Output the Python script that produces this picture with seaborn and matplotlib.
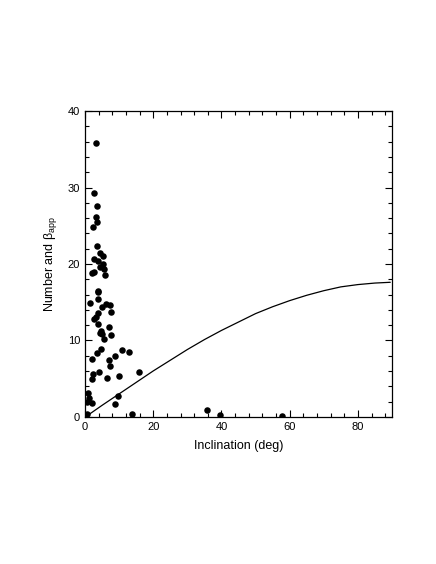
import matplotlib
matplotlib.use("Agg")
import matplotlib.pyplot as plt
import seaborn as sns
import pandas as pd
from matplotlib.ticker import MultipleLocator

# Scatter data (inclination in deg, number / beta_app)
incl = [3.2, 2.7, 3.5, 3.1, 3.6, 2.2, 3.5, 4.4, 5.3, 2.7, 3.7, 5.3, 4.4, 5.5,
        2.0, 2.6, 5.9, 3.9, 3.9, 1.6, 3.7, 6.1, 4.9, 7.3, 7.5, 3.9, 2.7, 3.3,
        3.7, 4.6, 4.3, 5.0, 5.6, 7.1, 7.6, 4.8, 3.4, 2.1, 10.7, 13.0, 8.8, 7.0,
        7.4, 4.0, 2.4, 2.1, 6.5, 10.1, 15.8, 1.0, 1.3, 0.5, 2.0, 9.8, 8.7, 0.5,
        13.7, 35.7, 39.6, 57.8]
number = [35.8, 29.3, 27.6, 26.2, 25.5, 24.9, 22.4, 21.4, 21.1, 20.7, 20.4, 20.0,
          19.6, 19.4, 18.8, 18.9, 18.5, 16.5, 16.3, 14.9, 15.4, 14.8, 14.4, 14.6,
          13.7, 13.6, 12.8, 13.0, 12.2, 11.2, 10.9, 10.8, 10.2, 11.7, 10.7, 8.9,
          8.3, 7.5, 8.7, 8.5, 7.9, 7.4, 6.7, 5.9, 5.6, 5.0, 5.1, 5.4, 5.9, 3.1,
          2.5, 1.9, 1.8, 2.7, 1.7, 0.4, 0.35, 0.9, 0.3, 0.1]

# Curve
curve_x = [0.5, 5, 10, 15, 20, 25, 30, 35, 40, 45, 50, 55, 60, 65, 70, 75, 80, 85, 89.5]
curve_y = [0.1, 1.5, 3.0, 4.5, 6.0, 7.4, 8.8, 10.1, 11.3, 12.4, 13.5, 14.4, 15.2,
           15.9, 16.5, 17.0, 17.3, 17.5, 17.6]

pts = pd.DataFrame({"incl": incl, "number": number})
crv = pd.DataFrame({"x": curve_x, "y": curve_y})

sns.set_style("ticks")
plt.rcParams["font.family"] = ["Liberation Sans", "DejaVu Sans"]
plt.rcParams["mathtext.fontset"] = "custom"
plt.rcParams["mathtext.rm"] = "Liberation Sans"
plt.rcParams["mathtext.it"] = "Liberation Sans:italic"
for k in ["text.color", "axes.labelcolor", "xtick.color", "ytick.color",
          "axes.edgecolor"]:
    plt.rcParams[k] = "black"

fig = plt.figure(figsize=(4.36, 5.64), dpi=100)
ax = fig.add_axes([0.195, 0.261, 0.704, 0.542])

sns.lineplot(data=crv, x="x", y="y", ax=ax, color="black", linewidth=0.9,
             sort=False)
sns.scatterplot(data=pts, x="incl", y="number", ax=ax, color="black", s=22,
                edgecolor="black", linewidth=0, zorder=3)

ax.set_xlim(0, 90)
ax.set_ylim(0, 40)
ax.xaxis.set_major_locator(MultipleLocator(20))
ax.xaxis.set_minor_locator(MultipleLocator(4))
ax.yaxis.set_major_locator(MultipleLocator(10))
ax.yaxis.set_minor_locator(MultipleLocator(2))
ax.tick_params(which="both", direction="in", top=True, right=True,
               labelsize=8, width=0.8, color="black", labelcolor="black")
ax.tick_params(which="major", length=5)
ax.tick_params(which="minor", length=3)
for sp in ax.spines.values():
    sp.set_visible(True)
    sp.set_linewidth(0.9)
    sp.set_color("black")

ax.set_xlabel("Inclination (deg)", fontsize=9, labelpad=6)
ax.set_ylabel(r"Number and β$_{\mathrm{app}}$", fontsize=9, labelpad=6)

fig.savefig("out.png", dpi=100)
